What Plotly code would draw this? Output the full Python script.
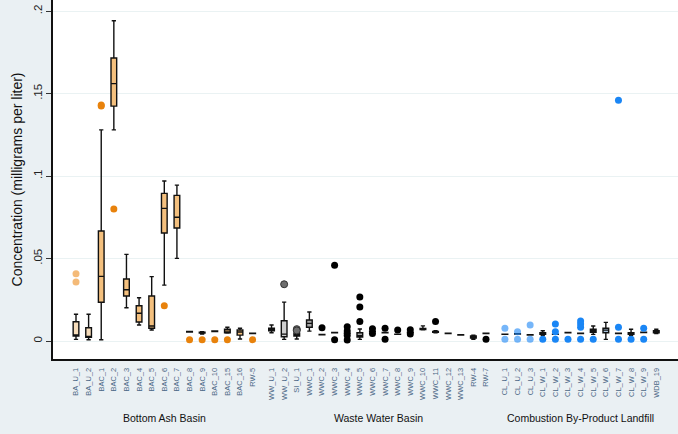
import plotly.graph_objects as go

# ---------------- data ----------------
group_names = ["Bottom Ash Basin", "Waste Water Basin", "Combustion By-Product Landfill"]

ba_wells = ["BA_U_1", "BA_U_2", "BAC_1", "BAC_2", "BAC_3", "BAC_4", "BAC_5", "BAC_6",
            "BAC_7", "BAC_8", "BAC_9", "BAC_10", "BAC_15", "BAC_16", "RW-5"]
ww_wells = ["WW_U_1", "WW_U_2", "SI_U_1", "WWC_1", "WWC_2", "WWC_3", "WWC_4", "WWC_5",
            "WWC_6", "WWC_7", "WWC_8", "WWC_9", "WWC_10", "WWC_11", "WWC_12", "WWC_13",
            "RW-4", "RW-7"]
cl_wells = ["CL_U_1", "CL_U_2", "CL_U_3", "CL_W_1", "CL_W_2", "CL_W_3", "CL_W_4",
            "CL_W_5", "CL_W_6", "CL_W_7", "CL_W_8", "CL_W_9", "WDB_19"]

# box statistics (mg/L): lower whisker, q1, median, q3, upper whisker
ba_lower  = [.0010, .0008, .0008, .1280, .0202, .0097, .0067, .0339, .0501, .0055, .0042, .0058, .0048, .0012, .0045]
ba_q1     = [.0030, .0022, .0235, .1424, .0273, .0115, .0077, .0655, .0685, .0055, .0048, .0058, .0050, .0036, .0045]
ba_median = [.0035, .0025, .0392, .1560, .0311, .0168, .0091, .0804, .0750, .0055, .0050, .0058, .0060, .0055, .0045]
ba_q3     = [.0117, .0080, .0667, .1715, .0376, .0214, .0273, .0895, .0883, .0058, .0054, .0061, .0071, .0067, .0048]
ba_upper  = [.0162, .0162, .1280, .1941, .0525, .0262, .0390, .0970, .0945, .0058, .0056, .0061, .0083, .0077, .0048]
ba_outliers = [[.0408, .0358], [], [.1424, .1430], [.0800], [], [], [], [.0214], [],
               [.0008], [.0008], [.0008], [.0008], [], [.0008]]

ww_lower  = [.0050, .0010, .0012, .0060, .0037, .0050, .0045, .0010, .0058, .0050, .0040, .0052, .0068, .0050, .0046, .0036, .0010, .0046]
ww_q1     = [.0062, .0026, .0030, .0083, .0037, .0050, .0045, .0024, .0058, .0050, .0040, .0052, .0070, .0053, .0046, .0036, .0018, .0046]
ww_median = [.0070, .0042, .0038, .0107, .0037, .0050, .0045, .0032, .0058, .0050, .0040, .0052, .0072, .0056, .0046, .0036, .0024, .0046]
ww_q3     = [.0077, .0123, .0048, .0127, .0040, .0052, .0047, .0050, .0060, .0052, .0042, .0054, .0076, .0058, .0048, .0038, .0030, .0048]
ww_upper  = [.0097, .0236, .0056, .0176, .0040, .0052, .0047, .0073, .0060, .0052, .0042, .0054, .0092, .0062, .0048, .0038, .0036, .0048]
ww_outliers = [[], [.0344], [.0072, .0064], [], [.0081], [.0459, .0008],
               [.0087, .0061, .0034, .0006], [.0119, .0206, .0267], [.0074, .0046],
               [.0077, .0010], [.0067], [.0068, .0042], [], [.0119], [], [], [], [.0010]]

cl_lower  = [.0040, .0042, .0036, .0035, .0040, .0050, .0046, .0040, .0010, .0046, .0035, .0052, .0045]
cl_q1     = [.0040, .0042, .0036, .0040, .0040, .0050, .0046, .0053, .0050, .0046, .0040, .0052, .0050]
cl_median = [.0040, .0042, .0036, .0046, .0040, .0050, .0046, .0062, .0066, .0046, .0046, .0052, .0056]
cl_q3     = [.0042, .0044, .0038, .0050, .0042, .0052, .0048, .0071, .0077, .0048, .0050, .0054, .0062]
cl_upper  = [.0042, .0044, .0038, .0062, .0042, .0052, .0048, .0091, .0113, .0048, .0071, .0054, .0071]
cl_outliers = [[.0077, .0010], [.0056, .0010], [.0097, .0010], [.0010], [.0103, .0056, .0010],
               [.0010], [.0121, .0103, .0083, .0010], [.0010], [], [.1460, .0083, .0010],
               [.0010], [.0078, .0010], []]

y_tick_vals = [0, .05, .1, .15, .2]
y_tick_text = ["0", ".05", ".1", ".15", ".2"]
y_title = "Concentration (milligrams per liter)"

# ---------------- styling ----------------
styles = {
    0: dict(u_fill="#F7DDBB", w_fill="#F4C07E",
            u_out=dict(color="rgba(236,140,30,0.6)", size=7),
            w_out=dict(color="#E8820C", size=7)),
    1: dict(u_fill="#CFCFCF", w_fill="#A8A8A8",
            u_out=dict(color="#6E6E6E", size=7, line=dict(color="#333333", width=1)),
            w_out=dict(color="#000000", size=7)),
    2: dict(u_fill="#C4D8EE", w_fill="#A9C4DE",
            u_out=dict(color="rgba(26,134,245,0.6)", size=7),
            w_out=dict(color="#1A86F5", size=7)),
}

groups = [
    (ba_wells, ba_lower, ba_q1, ba_median, ba_q3, ba_upper, ba_outliers),
    (ww_wells, ww_lower, ww_q1, ww_median, ww_q3, ww_upper, ww_outliers),
    (cl_wells, cl_lower, cl_q1, cl_median, cl_q3, cl_upper, cl_outliers),
]

fig = go.Figure()
tickvals, ticktext, centers = [], [], []
pos = 0.0
for gi, (wells, lo, a, m, b, hi, outs) in enumerate(groups):
    xs = [pos + i for i in range(len(wells))]
    centers.append((xs[0] + xs[-1]) / 2)
    tickvals += xs
    ticktext += wells
    st = styles[gi]
    for kind in ("u", "w"):
        idx = [i for i, w in enumerate(wells) if ("_U_" in w) == (kind == "u")]
        if not idx:
            continue
        fig.add_trace(go.Box(
            x=[xs[i] for i in idx],
            lowerfence=[lo[i] for i in idx], q1=[a[i] for i in idx],
            median=[m[i] for i in idx], q3=[b[i] for i in idx],
            upperfence=[hi[i] for i in idx],
            width=0.45, whiskerwidth=0.75, boxpoints=False,
            fillcolor=st[kind + "_fill"], line=dict(color="#111111", width=1.4),
            showlegend=False, hoverinfo="skip"))
        ox, oy = [], []
        for i in idx:
            for v in outs[i]:
                ox.append(xs[i]); oy.append(v)
        if ox:
            fig.add_trace(go.Scatter(x=ox, y=oy, mode="markers",
                                     marker=st[kind + "_out"], showlegend=False,
                                     hoverinfo="skip"))
    pos = xs[-1] + 1.5

for gi, name in enumerate(group_names):
    fig.add_annotation(x=centers[gi], xref="x", y=(359 - 418) / 359, yref="paper",
                       text=name, showarrow=False, yanchor="middle",
                       font=dict(size=10.5, color="#111111"))

fig.update_layout(
    width=678, height=434,
    margin=dict(l=53, r=0, t=0, b=75),
    paper_bgcolor="#EAF0F3", plot_bgcolor="#FFFFFF",
    font=dict(family="Liberation Sans, Arial, sans-serif"),
    boxmode="overlay",
)
fig.update_xaxes(range=[-1.823, 47.72], tickvals=tickvals, ticktext=ticktext,
                 tickangle=-90, tickfont=dict(size=7.5, color="#4A6785"),
                 ticks="", showgrid=False, zeroline=False, ticklabelstandoff=4,
                 automargin=False,
                 showline=True, linecolor="#111111", linewidth=1.6)
fig.update_yaxes(range=[-0.0109, 0.2067], tickvals=y_tick_vals, ticktext=y_tick_text,
                 tickangle=-90, tickfont=dict(size=11.5, color="#222222"),
                 ticks="outside", ticklen=5, tickcolor="#333333",
                 showgrid=True, gridcolor="#EAF2F3", gridwidth=1.2, zeroline=False,
                 showline=True, linecolor="#111111", linewidth=1.6, automargin=False,
                 title=dict(text=y_title, font=dict(size=14, color="#111111"), standoff=6))

fig.write_html("out.html", config={"displayModeBar": False},
               post_script="document.body.style.margin='0';document.body.style.background='#EAF0F3';")
